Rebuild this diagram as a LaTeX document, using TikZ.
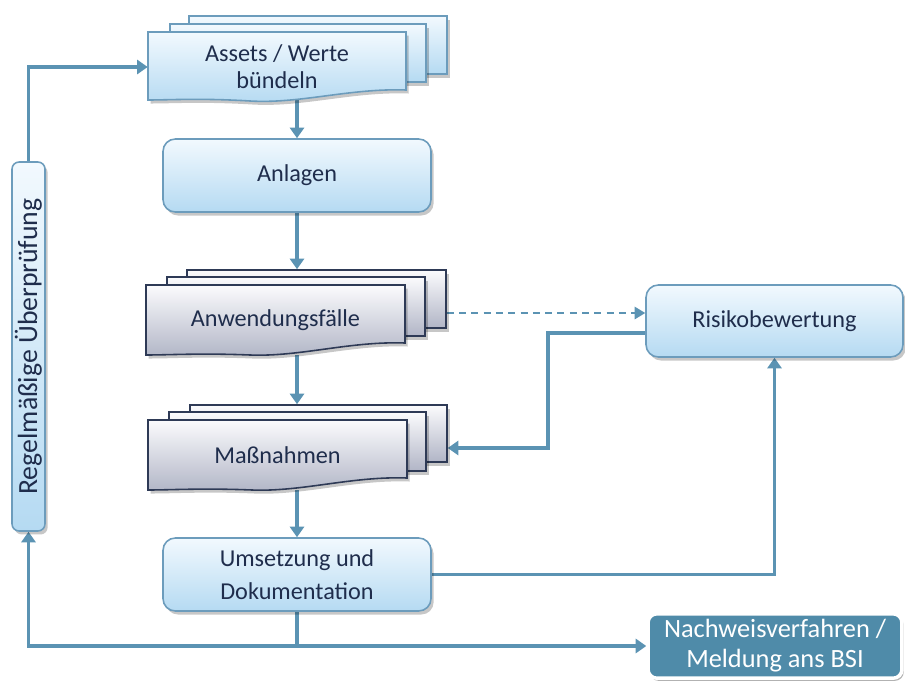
\documentclass[tikz,border=0pt]{standalone}
\usepackage{fontspec}
\setmainfont{Carlito}
\usetikzlibrary{arrows.meta,shadows,calc}
\pgfdeclarelayer{bg}
\pgfsetlayers{bg,main}
\definecolor{conn}{HTML}{5B93B3}
\definecolor{bluetop}{HTML}{F2F9FE}
\definecolor{bluebot}{HTML}{B5DAF2}
\definecolor{blueedge}{HTML}{6C9CBC}
\definecolor{graytop}{HTML}{FBFBFD}
\definecolor{graybot}{HTML}{B1B5C6}
\definecolor{grayedge}{HTML}{2E3A56}
\definecolor{txt}{HTML}{1F2D4C}
\definecolor{nachfill}{HTML}{4F8BA9}
\tikzset{
  shad/.style={drop shadow={shadow xshift=1.5pt,shadow yshift=-2pt,opacity=0.22,fill=black}},
  rbox/.style={rounded corners=7pt,draw=blueedge,line width=0.9pt,top color=bluetop,bottom color=bluebot,shad,
    text=txt,align=center,font=\fontsize{13.8pt}{18.5pt}\selectfont},
  bluesheet/.style={draw=blueedge,line width=0.9pt,top color=bluetop,bottom color=bluebot,shad},
  graysheet/.style={draw=grayedge,line width=0.9pt,top color=graytop,bottom color=graybot,shad},
  sheetnode/.style={rectangle,inner sep=0pt},
  lbl/.style={inner sep=0pt,text=txt,align=center,font=\fontsize{13.8pt}{15.5pt}\selectfont},
  arr/.style={draw=conn,line width=2.2pt,-{Triangle[length=6pt,width=8pt]}},
  ln/.style={draw=conn,line width=2.2pt},
  darr/.style={draw=conn,line width=1pt,dash pattern=on 4pt off 3pt,-{Triangle[length=6pt,width=7pt]}},
}
\begin{document}
\begin{tikzpicture}[x=0.02cm,y=-0.02cm]
\useasboundingbox (0,0) rectangle (905,682);

% ---------- Assets stack ----------
\node[sheetnode,bluesheet,minimum width=5.16cm,minimum height=1.16cm] (assetsB) at (318,45) {};
\node[sheetnode,bluesheet,minimum width=5.12cm,minimum height=1.16cm] (assetsM) at (298,53) {};
\path[bluesheet] (148,32) -- (406,32) -- (406,90)
  .. controls (350,88) and (300,104) .. (250,101)
  .. controls (200,98) and (170,100) .. (148,100) -- cycle;
\node[lbl,minimum width=5.16cm,minimum height=1.3cm,font=\fontsize{13.8pt}{15.3pt}\selectfont] (assets) at (277,67) {Assets / Werte\\bündeln};

% ---------- Anlagen ----------
\node[rbox,minimum width=5.36cm,minimum height=1.46cm] (anlagen) at (297,175.5) {Anlagen};

% ---------- Anwendungsfälle stack ----------
\node[sheetnode,graysheet,minimum width=5.18cm,minimum height=1.16cm] (anwB) at (316.5,299) {};
\node[sheetnode,graysheet,minimum width=5.16cm,minimum height=1.18cm] (anwM) at (296,306.5) {};
\path[graysheet] (146,285) -- (405,285) -- (405,343)
  .. controls (350,341) and (300,357) .. (250,355)
  .. controls (200,353) and (170,355) .. (146,355) -- cycle;
\node[lbl,minimum width=5.18cm,minimum height=1.4cm] (anw) at (275.5,320) {Anwendungsfälle};

% ---------- Maßnahmen stack ----------
\node[sheetnode,graysheet,minimum width=5.14cm,minimum height=1.14cm] (massB) at (318.5,433.5) {};
\node[sheetnode,graysheet,minimum width=5.14cm,minimum height=1.18cm] (massM) at (297.5,441.5) {};
\path[graysheet] (148,420) -- (407,420) -- (407,478)
  .. controls (352,476) and (302,492) .. (252,490)
  .. controls (202,488) and (172,490) .. (148,490) -- cycle;
\node[lbl,minimum width=5.18cm,minimum height=1.4cm] (mass) at (277.5,455) {Maßnahmen};

% ---------- Umsetzung ----------
\node[rbox,minimum width=5.36cm,minimum height=1.46cm] (ums) at (297,574.5) {Umsetzung und\\Dokumentation};

% ---------- Risikobewertung ----------
\node[rbox,minimum width=5.14cm,minimum height=1.44cm] (risk) at (774.5,321) {Risikobewertung};

% ---------- Regelmäßige Überprüfung ----------
\node[rbox,rounded corners=4pt,minimum width=0.66cm,minimum height=7.38cm] (regel) at (28.5,346.5) {};
\node[lbl,rotate=90,font=\fontsize{15.8pt}{16pt}\selectfont] (regeltxt) at (regel.center) {Regelmäßige Überprüfung};

% ---------- Nachweisverfahren ----------
\node[rectangle,rounded corners=5pt,fill=nachfill,draw=white,line width=2pt,
  drop shadow={shadow xshift=1pt,shadow yshift=-1.5pt,opacity=0.3,fill=black},
  minimum width=5.08cm,minimum height=1.28cm,text=white,align=center,
  font=\fontsize{15pt}{17pt}\selectfont] (nach) at (775,646) {Nachweisverfahren /\\Meldung ans BSI};

% ---------- connectors ----------
\coordinate (dashy) at (0,313);
\coordinate (fbY) at (0,333);
\coordinate (fbX) at (548,0);
\coordinate (fbZ) at (0,448);
\coordinate (junc) at (297,646);
\begin{pgfonlayer}{bg}
\draw[arr] (regel.north) |- (assets.west);
\draw[arr] (anlagen.north |- assets.south) -- (anlagen.north);
\draw[arr] (anlagen.south) -- (anlagen.south |- anwB.north);
\draw[arr] (anlagen.south |- anw.south) -- (anlagen.south |- massB.north);
\draw[arr] (anlagen.south |- mass.south) -- (ums.north);
\draw[darr] (anwB.east |- dashy) -- (risk.west |- dashy);
\draw[arr] (risk.west |- fbY) -- (fbX |- fbY) -- (fbX |- fbZ) -- (massB.east |- fbZ);
\draw[arr] (ums.east) -| (risk.south);
\draw[ln] (ums.south) -- (junc);
\draw[arr] (junc) -- (nach.west |- junc);
\draw[arr] (junc) -| (regel.south);
\end{pgfonlayer}
\end{tikzpicture}
\end{document}
